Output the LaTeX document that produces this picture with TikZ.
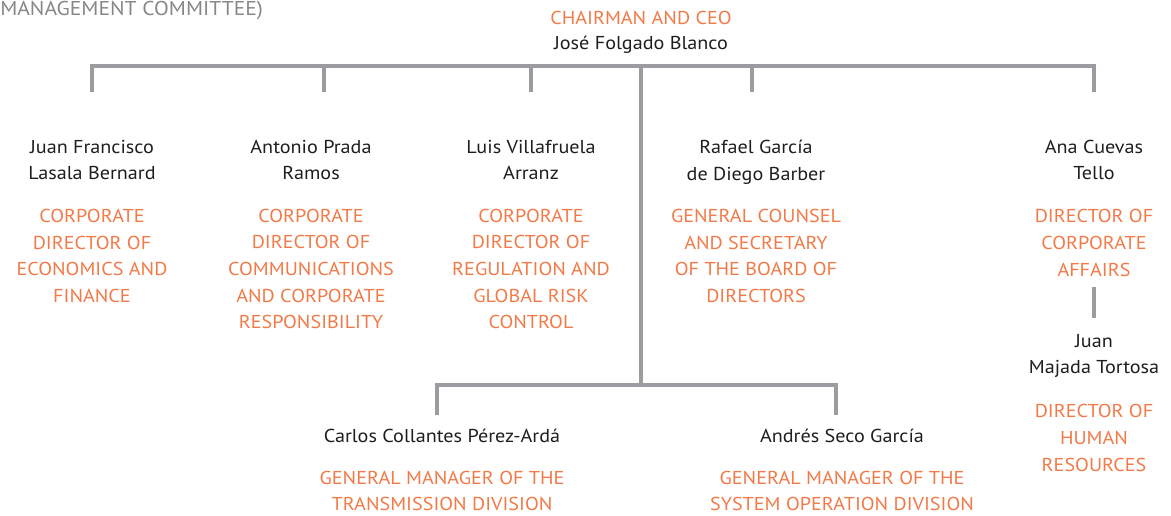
\documentclass[tikz,border=0pt]{standalone}
\usepackage{fontspec}
\setmainfont[FakeStretch=1.08]{PT Sans}
\usetikzlibrary{positioning}
\definecolor{eorange}{RGB}{242,122,72}
\definecolor{eline}{RGB}{155,155,160}
\definecolor{ename}{RGB}{30,30,30}
\definecolor{enote}{RGB}{135,135,135}

\begin{document}
\begin{tikzpicture}[x=0.75pt,y=-0.75pt,
    person/.style={align=center,inner sep=0pt,text=ename,font=\fontsize{14}{20}\selectfont},
    role/.style={align=center,inner sep=0pt,text=eorange,font=\fontsize{14}{20}\selectfont},
    link/.style={draw=eline,line width=2.3pt}]
      \useasboundingbox (0,0) rectangle (1171,515);

      \node [anchor=west,inner sep=0pt,text=enote,font=\fontsize{15}{20}\selectfont]
      (note) at (0,11) {MANAGEMENT COMMITTEE)};

      % chairman
      \node [role] (ceorole) at (641,18) {CHAIRMAN AND CEO};
      \node [person] (ceo) at (641,45) {José Folgado Blanco};

      % first row
      \node [person] (p1) at (92,160) {Juan Francisco\\Lasala Bernard};
      \node [role] (r1) at (92,256) {CORPORATE\\DIRECTOR OF\\ECONOMICS AND\\FINANCE};
      \node [person] (p2) at (311,160) {Antonio Prada\\Ramos};
      \node [role] (r2) at (311,269) {CORPORATE\\DIRECTOR OF\\COMMUNICATIONS\\AND CORPORATE\\RESPONSIBILITY};
      \node [person] (p3) at (531,160) {Luis Villafruela\\Arranz};
      \node [role] (r3) at (531,269) {CORPORATE\\DIRECTOR OF\\REGULATION AND\\GLOBAL RISK\\CONTROL};
      \node [person] (p4) at (756,162) {Rafael García\\de Diego Barber};
      \node [role] (r4) at (756,256) {GENERAL COUNSEL\\AND SECRETARY\\OF THE BOARD OF\\DIRECTORS};
      \node [person] (p5) at (1094,160) {Ana Cuevas\\Tello};
      \node [role] (r5) at (1094,243) {DIRECTOR OF\\CORPORATE\\AFFAIRS};
      \node [person] (p6) at (1094,356) {Juan\\Majada Tortosa};
      \node [role] (r6) at (1094,438) {DIRECTOR OF\\HUMAN\\RESOURCES};

      % second row
      \node [person] (p7) at (442,436) {Carlos Collantes Pérez-Ardá};
      \node [role] (r7) at (442,491) {GENERAL MANAGER OF THE\\TRANSMISSION DIVISION};
      \node [person] (p8) at (842,436) {Andrés Seco García};
      \node [role] (r8) at (842,491) {GENERAL MANAGER OF THE\\SYSTEM OPERATION DIVISION};

      % connectors
      \coordinate (top) at (641,66);
      \coordinate (low) at (641,385);
      \coordinate (t1) at (92,92);
      \coordinate (t2) at (324,92);
      \coordinate (t3) at (531,92);
      \coordinate (t4) at (752,92);
      \coordinate (t5) at (1094,92);
      \coordinate (t7) at (437,415);
      \coordinate (t8) at (836,415);

      \draw [link] (t1) -- (t1 |- top) -- (t5 |- top) -- (t5);
      \draw [link] (t2) -- (t2 |- top);
      \draw [link] (t3) -- (t3 |- top);
      \draw [link] (t4) -- (t4 |- top);
      \draw [link] (top) -- (low);
      \draw [link] (t7) -- (t7 |- low) -- (t8 |- low) -- (t8);
      \draw [link,shorten <=8pt,shorten >=12pt] (r5) -- (p6);

    \end{tikzpicture}
\end{document}
